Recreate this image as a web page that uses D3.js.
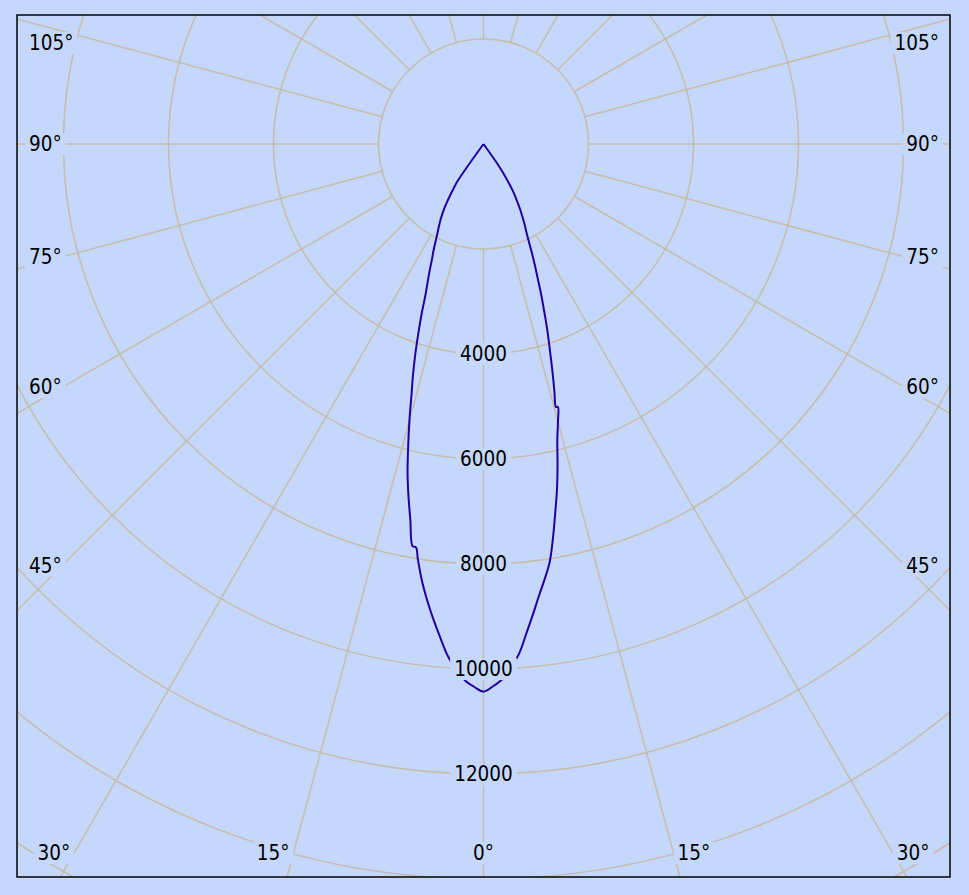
<!DOCTYPE html>
<html><head><meta charset="utf-8">
<script src="https://cdn.jsdelivr.net/npm/d3@7"></script>
<style>html,body{margin:0;padding:0;background:#C5D8FC;} svg{display:block}</style>
</head><body><svg id="c" width="969" height="895"></svg>
<script>
// ---- data (angle from nadir in degrees, luminous intensity in cd) ----
const rightAngles = [0,1,2,3,4,5,6,7,8,9,10,11,12,13,14,15,15.8,15.4,16,17,18,19,20,21,22,23,24,25,26,27,28,29,30,31,32,33,34,35,36];
const rightValues = [10430,10330,10200,9990,9730,9360,9010,8670,8370,8060,7620,7160,6730,6270,5810,5480,5205,5194,4900,4470,4070,3720,3370,3060,2750,2500,2260,2030,1860,1730,1590,1460,1320,1190,1060,880,690,500,0];
const leftAngles = [0,1,2,3,4,5,6,7,8,9,9.5,10,11,12,13,14,15,16,17,18,19,20,21,22,23,24,25,26,27,28,29,30,31,32,33,34,35,36];
const leftValues = [10430,10340,10220,10010,9770,9440,9110,8770,8410,8000,7790,7780,7300,6870,6430,5930,5450,4980,4590,4200,3810,3450,3090,2840,2630,2420,2260,2100,1950,1830,1720,1610,1480,1330,1170,1010,850,0];
const ringValues = [2000,4000,6000,8000,10000,12000,14000,16000,18000];
const ringLabels = ["4000","6000","8000","10000","12000"];
const spokeAngles = [0,15,30,45,60,75,90,105,120,135,150,165,180,195,210,225,240,255,270,285,300,315,330,345];
const angleLabels = [0,15,30,45,60,75,90,105];

// ---- layout / style ----
const W=969,H=895;
const plot={x0:17,y0:15,x1:950,y1:877};
const cx=483.5, cy=144;
const BG="#C5D8FC", GRID="#C4BCA9", CURVE="#2200A0";
const FONT="Tahoma,'DejaVu Sans Condensed','DejaVu Sans',sans-serif";
const FS=20.5;

const svg=d3.select('#c');
svg.append('rect').attr('width',W).attr('height',H).attr('fill',BG);
svg.append('defs').append('clipPath').attr('id','clip').append('rect')
  .attr('x',plot.x0).attr('y',plot.y0).attr('width',plot.x1-plot.x0).attr('height',plot.y1-plot.y0);

const r=d3.scaleLinear().domain([0,2000]).range([0,105]);
const rad=a=>a*Math.PI/180;
const g=svg.append('g').attr('clip-path','url(#clip)');

// rings
g.selectAll('circle.ring').data(ringValues).join('circle').attr('class','ring')
  .attr('cx',cx).attr('cy',cy).attr('r',d=>r(d))
  .attr('fill','none').attr('stroke',GRID).attr('stroke-width',1.5);

// spokes (from the innermost ring outward)
const rIn=r(ringValues[0]), rOut=r(20000);
g.selectAll('line.spoke').data(spokeAngles).join('line').attr('class','spoke')
  .attr('x1',d=>cx+rIn*Math.sin(rad(d))).attr('y1',d=>cy+rIn*Math.cos(rad(d)))
  .attr('x2',d=>cx+rOut*Math.sin(rad(d))).attr('y2',d=>cy+rOut*Math.cos(rad(d)))
  .attr('stroke',GRID).attr('stroke-width',1.5);

// curve
const pts = leftAngles.map((a,i)=>({a:-a,v:leftValues[i]})).reverse()
  .concat(rightAngles.slice(1).map((a,i)=>({a:a,v:rightValues[i+1]})));
const line=d3.lineRadial().angle(d=>Math.PI-rad(d.a)).radius(d=>r(d.v))
  .curve(d3.curveCatmullRom.alpha(0.5));
g.append('path').attr('transform',`translate(${cx},${cy})`)
  .attr('d',line(pts)).attr('fill','none').attr('stroke',CURVE).attr('stroke-width',2)
  .attr('stroke-linejoin','round');

// label helper with background box
function label(x,y,txt,anchor){
  const lg=svg.append('g');
  const rect=lg.append('rect').attr('fill',BG);
  const t=lg.append('text').attr('x',x).attr('y',y).attr('text-anchor',anchor)
    .attr('dominant-baseline','central').attr('font-family',FONT).attr('font-size',FS)
    .attr('fill','#000').text(txt);
  const b=t.node().getBBox();
  rect.attr('x',b.x-4).attr('y',b.y+1).attr('width',b.width+8).attr('height',b.height-2);
}

// ring value labels
ringLabels.forEach(s=>label(cx,cy+r(+s),s,'middle'));

// angle labels
const inset={top:43,bottom:853};
const xLeftIn=62;
angleLabels.forEach(a=>{
  const sides = a===0?[0]:[-1,1];
  sides.forEach(s=>{
    const txt=a+"°";
    if(a===0){ label(cx,inset.bottom,txt,'middle'); return; }
    const yEdge = cy + (cx-xLeftIn)/Math.tan(rad(a));
    if(yEdge>inset.bottom){
      const x = cx + s*(inset.bottom-cy)*Math.tan(rad(a));
      label(x+s*4,inset.bottom,txt,s<0?'end':'start');
    } else {
      const y=Math.max(yEdge,inset.top);
      if(s<0) label(29,y,txt,'start'); else label(939,y,txt,'end');
    }
  });
});

// frame
svg.append('rect').attr('x',plot.x0).attr('y',plot.y0).attr('width',plot.x1-plot.x0).attr('height',plot.y1-plot.y0)
  .attr('fill','none').attr('stroke','#000').attr('stroke-width',1.5);
</script></body></html>
